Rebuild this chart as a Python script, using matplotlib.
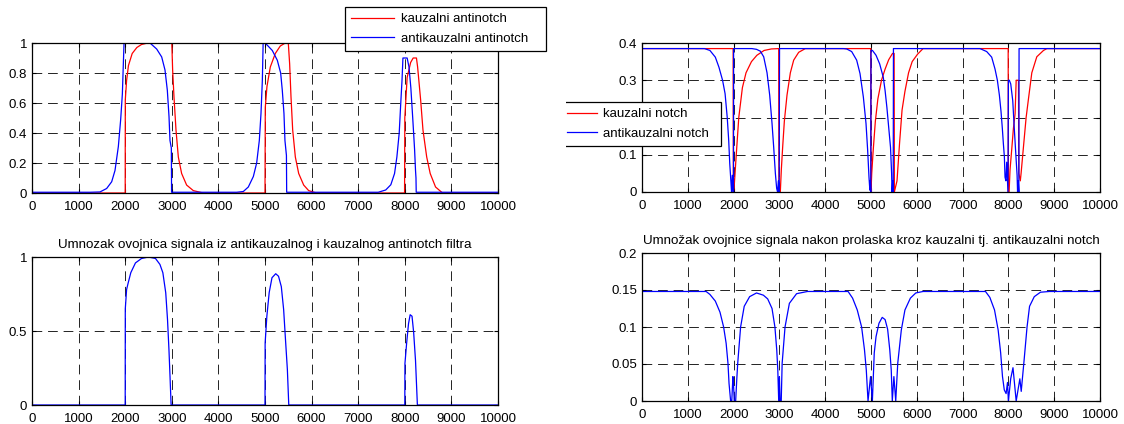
import matplotlib
matplotlib.use("Agg")
import matplotlib.pyplot as plt
from matplotlib.transforms import Bbox, TransformedBbox

plt.rcParams['font.family'] = ['Liberation Sans', 'DejaVu Sans']

W, H = 1124, 424

# x axis: sample index
xTicks = [0, 1000, 2000, 3000, 4000, 5000, 6000, 7000, 8000, 9000, 10000]
xLabels = [str(t) for t in xTicks]

# envelope after the causal antinotch filter
kauzAntiX = [0, 2000, 2002, 2030, 2070, 2150, 2250, 2350, 2480, 3000, 3018, 3047, 3090, 3140, 3211, 3318, 3461, 3675,
             5000, 5006, 5042, 5114, 5221, 5328, 5436, 5500, 5529, 5558, 5594, 5651, 5723, 5830, 5937, 6100,
             7995, 8000, 8050, 8125, 8180, 8250, 8275, 8340, 8390, 8470, 8545, 8660, 8810, 10000]
kauzAntiY = [0, 0, 0.62, 0.75, 0.85, 0.93, 0.97, 0.99, 1.0, 1.0, 0.82, 0.64, 0.42, 0.24, 0.13, 0.053, 0.016, 0,
             0, 0.57, 0.71, 0.84, 0.93, 0.98, 1.0, 1.0, 0.86, 0.64, 0.42, 0.24, 0.13, 0.053, 0.016, 0,
             0, 0.5, 0.77, 0.87, 0.9, 0.9, 0.84, 0.62, 0.42, 0.24, 0.13, 0.04, 0, 0]

# envelope after the anticausal antinotch filter
antiAntiX = [0, 1250, 1459, 1602, 1710, 1781, 1853, 1903, 1939, 1960, 1975, 2000, 2532, 2675, 2783, 2854, 2904, 2940, 2961, 2990, 2995,
             4392, 4535, 4642, 4750, 4821, 4878, 4914, 4943, 4960, 5000, 5050, 5157, 5264, 5336, 5371, 5407, 5428, 5460, 5465,
             7430, 7590, 7700, 7780, 7830, 7880, 7910, 7940, 7960, 8050, 8090, 8130, 8170, 8210, 8230, 8240, 8245, 10000]
antiAntiY = [0.005, 0.005, 0.007, 0.03, 0.075, 0.15, 0.31, 0.49, 0.66, 0.86, 1.0, 1.0, 1.0, 0.96, 0.907, 0.82, 0.685, 0.51, 0.35, 0.3, 0.005,
             0.005, 0.01, 0.04, 0.11, 0.2, 0.35, 0.53, 0.75, 1.0, 1.0, 0.985, 0.95, 0.885, 0.8, 0.685, 0.53, 0.35, 0.25, 0.005,
             0.005, 0.02, 0.055, 0.13, 0.24, 0.4, 0.58, 0.75, 0.9, 0.9, 0.84, 0.7, 0.5, 0.29, 0.15, 0.1, 0.005, 0.005]

# envelope after the causal notch filter
kauzNotchX = [0, 1990, 1995, 2010, 2050, 2113, 2192, 2271, 2390, 2508, 2666, 2823, 2985, 2990, 3020, 3042, 3071, 3108, 3166, 3239, 3312, 3421, 3566,
              4995, 5000, 5016, 5047, 5095, 5150, 5229, 5308, 5386, 5470, 5505, 5510, 5568, 5623, 5678, 5741, 5820, 5899, 6017, 6136,
              7995, 8000, 8015, 8036, 8073, 8109, 8146, 8170, 8220, 8228, 8260, 8277, 8328, 8387, 8438, 8511, 8620, 8766, 8840, 10000]
kauzNotchY = [0.385, 0.385, 0.0, 0.01, 0.085, 0.2, 0.28, 0.32, 0.35, 0.367, 0.38, 0.384, 0.385, 0.0, 0.0, 0.06, 0.12, 0.19, 0.26, 0.32, 0.354, 0.375, 0.385,
              0.385, 0.0, 0.05, 0.11, 0.19, 0.25, 0.3, 0.33, 0.355, 0.372, 0.372, 0.0, 0.03, 0.13, 0.22, 0.27, 0.32, 0.35, 0.37, 0.385,
              0.385, 0.0, 0.0, 0.06, 0.115, 0.17, 0.21, 0.3, 0.3, 0.05, 0.03, 0.05, 0.12, 0.2, 0.25, 0.32, 0.363, 0.38, 0.385, 0.385]

# envelope after the anticausal notch filter
antiNotchX = [0, 1364, 1483, 1601, 1680, 1759, 1814, 1861, 1893, 1916, 1935, 1955, 1972, 1990, 1998, 2000,
              2400, 2500, 2584, 2657, 2730, 2788, 2839, 2875, 2912, 2940, 2960, 2978, 2995, 3003,
              4400, 4469, 4578, 4687, 4760, 4833, 4891, 4927, 4956, 4975, 4985, 4995, 5000, 5032, 5110, 5189, 5268, 5308, 5347, 5386, 5426, 5450, 5460, 5474, 5485, 5490,
              7380, 7526, 7635, 7708, 7759, 7803, 7839, 7868, 7890, 7912, 7926, 7945, 7963, 7990, 8000, 8020, 8051, 8095, 8124, 8153, 8175, 8190, 8200, 8215, 8228, 8233, 10000]
antiNotchY = [0.385, 0.385, 0.38, 0.362, 0.335, 0.3, 0.264, 0.2, 0.139, 0.076, 0.04, 0.0, 0.045, 0.0, 0.0, 0.385,
              0.385, 0.383, 0.378, 0.363, 0.32, 0.26, 0.184, 0.121, 0.05, 0.01, 0.0, 0.03, 0.0, 0.385,
              0.385, 0.384, 0.377, 0.354, 0.318, 0.255, 0.184, 0.112, 0.04, 0.005, 0.03, 0.0, 0.38, 0.38, 0.367, 0.344, 0.308, 0.272, 0.227, 0.174, 0.12, 0.05, 0.0, 0.03, 0.0, 0.385,
              0.385, 0.377, 0.362, 0.33, 0.3, 0.26, 0.216, 0.17, 0.13, 0.095, 0.04, 0.03, 0.08, 0.0, 0.3, 0.3, 0.29, 0.245, 0.18, 0.12, 0.075, 0.045, 0.0, 0.03, 0.0, 0.385, 0.385]

# product of the two antinotch envelopes
prodAntiX = [0, 2000, 2002, 2030, 2060, 2120, 2220, 2350, 2500, 2650, 2745, 2808, 2870, 2908, 2939, 2962, 2985,
             5000, 5003, 5040, 5090, 5150, 5230, 5290, 5350, 5400, 5440, 5480, 5510,
             8000, 8003, 8040, 8080, 8115, 8155, 8190, 8230, 8270, 10000]
prodAntiY = [0, 0, 0.65, 0.78, 0.82, 0.894, 0.96, 0.99, 1.0, 0.99, 0.95, 0.894, 0.758, 0.577, 0.373, 0.192, 0,
             0, 0.42, 0.6, 0.76, 0.86, 0.887, 0.87, 0.8, 0.645, 0.44, 0.24, 0,
             0, 0.28, 0.42, 0.55, 0.61, 0.6, 0.49, 0.3, 0, 0]

# product of the two notch envelopes
prodNotchX = [0, 1400, 1483, 1601, 1703, 1782, 1837, 1877, 1900, 1935, 1960, 1985, 2000, 2015, 2045, 2070, 2090, 2153, 2232, 2350, 2500,
              2650, 2744, 2839, 2902, 2942, 2965, 2985, 3000, 3015, 3040, 3060, 3123, 3218, 3375, 3612,
              4500, 4598, 4700, 4795, 4858, 4897, 4935, 4990, 5030, 5071, 5110, 5174, 5245, 5308, 5363, 5410, 5442, 5465, 5500, 5540, 5584, 5662, 5741, 5860, 5978, 6136,
              7500, 7595, 7697, 7776, 7831, 7871, 7910, 7950, 7980, 8000, 8050, 8100, 8170, 8250, 8280, 8344, 8407, 8462, 8565, 8699, 8896, 10000]
prodNotchY = [0.148, 0.148, 0.144, 0.135, 0.12, 0.1, 0.078, 0.051, 0.024, 0.0, 0.0, 0.033, 0.02, 0.0, 0.0, 0.03, 0.051, 0.1, 0.128, 0.141, 0.146,
              0.143, 0.138, 0.125, 0.1, 0.069, 0.042, 0.0, 0.033, 0.0, 0.0, 0.051, 0.1, 0.132, 0.145, 0.148,
              0.148, 0.139, 0.123, 0.1, 0.069, 0.042, 0.0, 0.033, 0.0, 0.065, 0.087, 0.105, 0.113, 0.11, 0.097, 0.069, 0.042, 0.0, 0.033, 0.0, 0.051, 0.096, 0.123, 0.139, 0.146, 0.148,
              0.148, 0.14, 0.123, 0.096, 0.065, 0.033, 0.015, 0.01, 0.025, 0.0, 0.03, 0.045, 0.0, 0.03, 0.013, 0.056, 0.1, 0.128, 0.141, 0.147, 0.148, 0.148]

topLeftYTicks = [0, 0.2, 0.4, 0.6, 0.8, 1]
topLeftYLabels = ['0', '0.2', '0.4', '0.6', '0.8', '1']
topRightYTicks = [0, 0.1, 0.2, 0.3, 0.4]
topRightYLabels = ['0', '0.1', '0.2', '0.3', '0.4']
botLeftYTicks = [0, 0.5, 1]
botLeftYLabels = ['0', '0.5', '1']
botRightYTicks = [0, 0.05, 0.1, 0.15, 0.2]
botRightYLabels = ['0', '0.05', '0.1', '0.15', '0.2']

titleAnti = 'Umnozak ovojnica signala iz antikauzalnog i kauzalnog antinotch filtra'
titleNotch = 'Umnožak ovojnice signala nakon prolaska kroz kauzalni tj. antikauzalni notch'

FS_TICK = 9.5
FS_TITLE = 9.6
FS_LEG = 9.5


def pixAxes(fig, left, top, right, bottom):
    # axes placed by pixel edges
    return fig.add_axes([left / W, 1 - bottom / H, (right - left) / W, (bottom - top) / H])


def styleAxes(ax, yTicks, yLabels, yTop):
    ax.set_xlim(0, 10000)
    ax.set_ylim(0, yTop)
    ax.set_xticks(xTicks)
    ax.set_xticklabels(xLabels)
    ax.set_yticks(yTicks)
    ax.set_yticklabels(yLabels)
    ax.grid(True, color='#222222', linestyle=(0, (10, 6)), linewidth=0.7)
    ax.tick_params(direction='in', length=3, width=0.8, top=True, right=True, labelsize=FS_TICK)
    ax.tick_params(axis='x', pad=6)
    ax.tick_params(axis='y', pad=3.5)
    for s in ax.spines.values():
        s.set_linewidth(0.9)
        s.set_color('k')


fig = plt.figure(figsize=(W / 100, H / 100), dpi=100)

axTL = pixAxes(fig, 32, 43, 498, 193)
axTR = pixAxes(fig, 642, 43, 1100, 192)
axBL = pixAxes(fig, 32, 257, 498, 405)
axBR = pixAxes(fig, 642, 253, 1100, 401)

lw = 0.9
r1, = axTL.plot(kauzAntiX, kauzAntiY, color='#ff0000', lw=lw)
b1, = axTL.plot(antiAntiX, antiAntiY, color='#0000ff', lw=lw)
styleAxes(axTL, topLeftYTicks, topLeftYLabels, 1)

r2, = axTR.plot(kauzNotchX, kauzNotchY, color='#ff0000', lw=lw)
b2, = axTR.plot(antiNotchX, antiNotchY, color='#0000ff', lw=lw)
styleAxes(axTR, topRightYTicks, topRightYLabels, 0.4)

axBL.plot(prodAntiX, prodAntiY, color='#0000ff', lw=lw)
styleAxes(axBL, botLeftYTicks, botLeftYLabels, 1)
axBL.set_title(titleAnti, fontsize=FS_TITLE, pad=6.5)

axBR.plot(prodNotchX, prodNotchY, color='#0000ff', lw=lw)
styleAxes(axBR, botRightYTicks, botRightYLabels, 0.2)
axBR.set_title(titleNotch, fontsize=FS_TITLE, pad=6.5)

# legends sit partly outside their axes
leg1 = axTL.legend([r1, b1], ['kauzalni antinotch', 'antikauzalni antinotch'],
                   loc='upper left', mode='expand',
                   bbox_to_anchor=(345 / W, 1 - 51 / H, 201 / W, 44 / H), bbox_transform=fig.transFigure,
                   fancybox=False, edgecolor='k', framealpha=1, borderaxespad=0, fontsize=FS_LEG,
                   handlelength=3.3, handletextpad=0.53, labelspacing=0.55, borderpad=0.45)
leg1.get_frame().set_linewidth(0.9)

leg2 = axTR.legend([r2, b2], ['kauzalni notch', 'antikauzalni notch'],
                   loc='upper left', mode='expand',
                   bbox_to_anchor=(561 / W, 1 - 145 / H, 160 / W, 43 / H), bbox_transform=fig.transFigure,
                   fancybox=False, edgecolor='k', framealpha=1, borderaxespad=0, fontsize=FS_LEG,
                   handlelength=2.3, handletextpad=0.45, labelspacing=0.55, borderpad=0.45)
leg2.get_frame().set_linewidth(0.9)
# left side of this box is cut off
leg2.get_frame().set_clip_box(TransformedBbox(Bbox([[566 / W, 0], [1, 1]]), fig.transFigure))

fig.savefig('out.png', dpi=100)
